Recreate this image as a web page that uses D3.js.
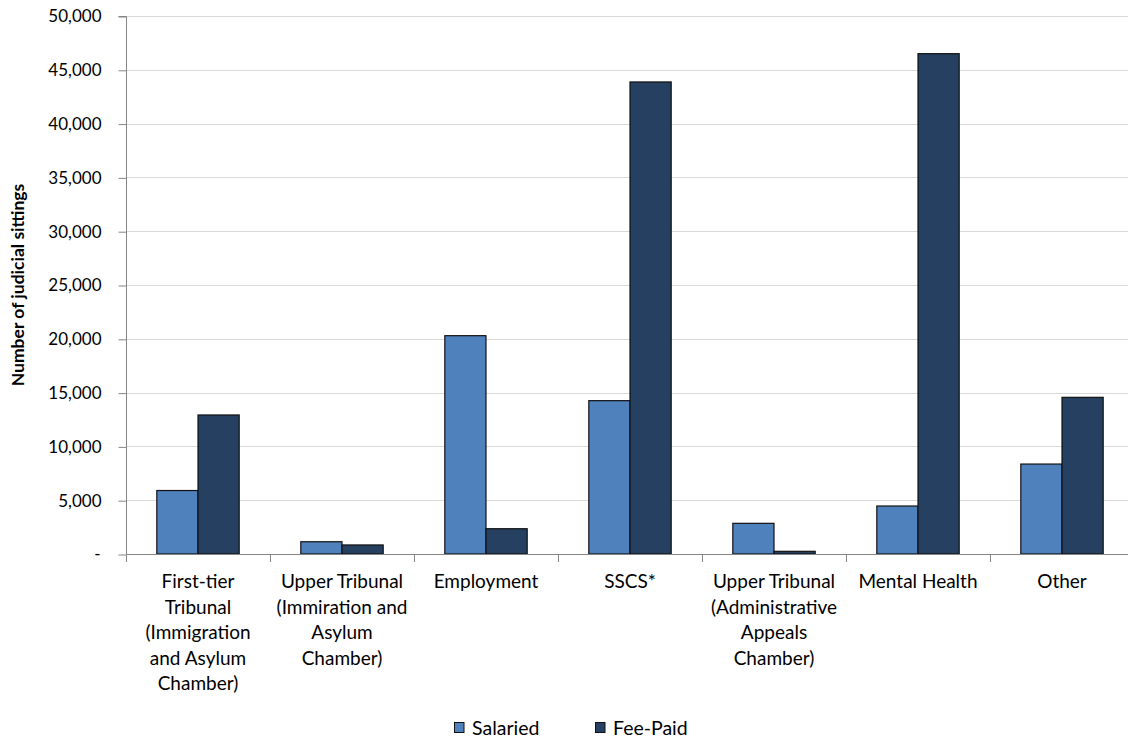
<!DOCTYPE html>
<html><head><meta charset="utf-8">
<script src="https://cdn.jsdelivr.net/npm/d3@7"></script>
<style>body{margin:0;background:#fff;font-family:Lato,"Open Sans",sans-serif;}</style>
</head><body><svg id="c" width="1128" height="742"></svg>
<script>
const categories = [
  ["First-tier","Tribunal","(Immigration","and Asylum","Chamber)"],
  ["Upper Tribunal","(Immiration and","Asylum","Chamber)"],
  ["Employment"],
  ["SSCS*"],
  ["Upper Tribunal","(Administrative","Appeals","Chamber)"],
  ["Mental Health"],
  ["Other"]
];
const seriesNames = ["Salaried","Fee-Paid"];
const salaried = [5900, 1140, 20290, 14250, 2850, 4460, 8360];
const feePaid = [12920, 840, 2350, 43870, 250, 46500, 14560];
const yTicks = [0,5000,10000,15000,20000,25000,30000,35000,40000,45000,50000];
const colors = ["#4f81bd","#254061"];

const svg = d3.select("#c");
const m = {l:126, r:0, t:16, b:188};
const W = 1128, H = 742;
const x = d3.scaleBand().domain(d3.range(categories.length)).range([m.l, 1134]).paddingInner(0).paddingOuter(0);
const y = d3.scaleLinear().domain([0,50000]).range([H-m.b, m.t]);
const bw = x.bandwidth()*0.286;

// grid
svg.append("g").selectAll("line").data(yTicks.slice(1)).join("line")
  .attr("x1", m.l).attr("x2", W).attr("y1", d=>Math.round(y(d))+0.5).attr("y2", d=>Math.round(y(d))+0.5)
  .attr("stroke","#d9d9d9").attr("stroke-width",1);

// y axis
const fmt = d3.format(",");
const yAxis = d3.axisLeft(y).tickValues(yTicks).tickSize(8).tickFormat(d=> d===0 ? "-" : fmt(d));
const gy = svg.append("g").attr("transform",`translate(${m.l+0.5},0.5)`).call(yAxis);
gy.select(".domain").attr("stroke","#868686").attr("d",`M-8,${y(50000)}H0V${y(0)}`);
gy.selectAll(".tick line").attr("stroke","#868686");
gy.selectAll(".tick text").attr("font-family","Lato,sans-serif").attr("font-size",17).attr("fill","#000").attr("x",-25);
gy.selectAll(".tick").filter(d=>d===0).select("text").attr("x",-26);

// bars
const data = categories.map((c,i)=>({i, vals:[salaried[i], feePaid[i]]}));
const gb = svg.append("g");
data.forEach(d=>{
  const cx = x(d.i) + x.bandwidth()/2;
  d.vals.forEach((v,k)=>{
    gb.append("rect")
      .attr("x", cx - bw + k*bw)
      .attr("y", y(v))
      .attr("width", bw)
      .attr("height", y(0)-y(v))
      .attr("fill", colors[k])
      .attr("stroke","#111").attr("stroke-width",1.2);
  });
});

// x axis
const gx = svg.append("g");
gx.append("line").attr("x1",m.l).attr("x2",W).attr("y1",y(0)+0.5).attr("y2",y(0)+0.5).attr("stroke","#868686");
gx.selectAll("line.t").data(d3.range(categories.length)).join("line").attr("class","t")
  .attr("x1",d=>Math.round(x(d))+0.5).attr("x2",d=>Math.round(x(d))+0.5)
  .attr("y1",y(0)).attr("y2",y(0)+8).attr("stroke","#868686");
categories.forEach((lines,i)=>{
  const t = gx.append("text").attr("text-anchor","middle")
    .attr("font-family","Lato,sans-serif").attr("font-size",19).attr("fill","#000");
  lines.forEach((ln,j)=>{
    t.append("tspan").attr("x", x(i)+x.bandwidth()/2).attr("y", 588 + j*25.6).text(ln);
  });
});

// y title
svg.append("text").attr("transform","translate(24,285) rotate(-90)").attr("text-anchor","middle")
  .attr("font-family","Lato,sans-serif").attr("font-weight","bold").attr("font-size",17.5)
  .text("Number of judicial sittings");

// legend
const lg = svg.append("g");
const lx = [454, 595];
seriesNames.forEach((s,k)=>{
  lg.append("rect").attr("x",lx[k]+0.5).attr("y",722.5).attr("width",9.5).attr("height",10)
    .attr("fill",colors[k]).attr("stroke","#111").attr("stroke-width",1);
  lg.append("text").attr("x",lx[k]+18).attr("y",735).attr("font-family","Lato,sans-serif")
    .attr("font-size",19.5).text(s);
});
</script></body></html>
